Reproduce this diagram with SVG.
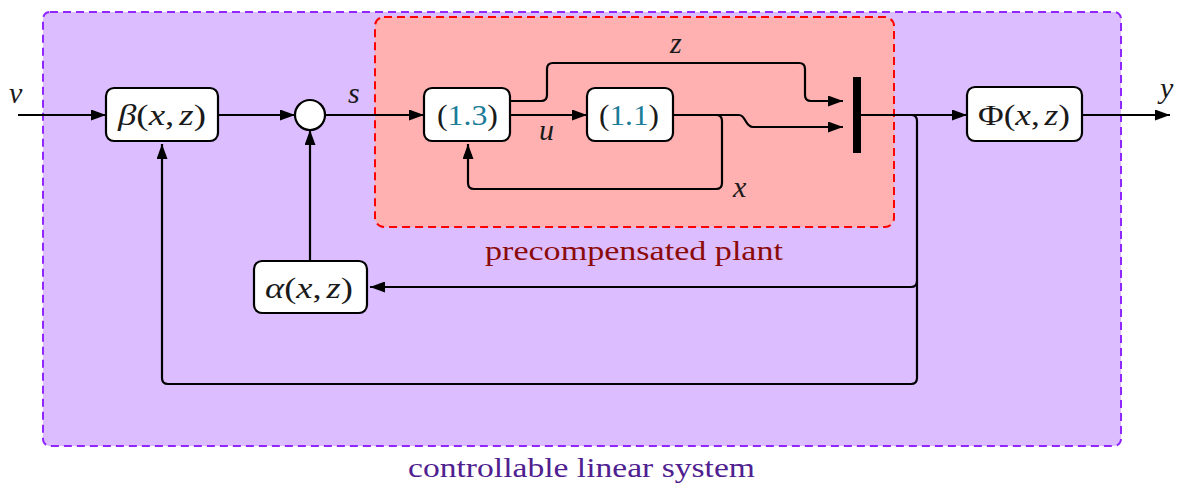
<svg xmlns="http://www.w3.org/2000/svg" width="1179" height="485" viewBox="0 0 1179 485">
  <style>
    .frame-outer { fill: #dcbdff; stroke: #9027ff; stroke-width: 2; stroke-dasharray: 8 5; }
    .frame-inner { fill: #ffb0b0; stroke: #ff0000; stroke-width: 2; stroke-dasharray: 8 5; }
    .blk { fill: #ffffff; stroke: #000; stroke-width: 2.2; }
    .wire { fill: none; stroke: #000; stroke-width: 2.2; }
    .arr { marker-end: url(#head); }
    .math { font-family: "Liberation Serif", "DejaVu Serif", serif; font-size: 29px; fill: #1a1a1a; }
    .var { font-family: "Liberation Serif", "DejaVu Serif", serif; font-size: 30px; font-style: italic; fill: #1a1a1a; }
    .it { font-style: italic; }
    .ref { fill: #1b7c98; }
    .cap { font-family: "Liberation Serif", "DejaVu Serif", serif; font-size: 28px; }
  </style>
  <defs>
    <marker id="head" markerWidth="15" markerHeight="11" refX="15" refY="5.5" orient="auto" markerUnits="userSpaceOnUse">
      <path d="M0,0 L15,5.5 L0,11 Z" fill="#000"/>
    </marker>
  </defs>

  <!-- enclosing regions -->
  <g id="system">
    <rect class="frame-outer" x="43" y="12" width="1078" height="434" rx="7"/>
    <text class="cap" x="408" y="477" fill="#4f2090" textLength="347" lengthAdjust="spacingAndGlyphs">controllable linear system</text>
  </g>
  <g id="plant">
    <rect class="frame-inner" x="375" y="17" width="519" height="210" rx="9"/>
    <text class="cap" x="485" y="260" fill="#8b0a0a" textLength="298" lengthAdjust="spacingAndGlyphs">precompensated plant</text>
  </g>

  <!-- connectors -->
  <g id="connectors">
    <path class="wire arr" d="M18 115 H106"/>
    <path class="wire arr" d="M218 115 H295"/>
    <path class="wire arr" d="M325 115 H424"/>
    <path class="wire arr" d="M510 115 H587"/>
    <path class="wire arr" d="M510 101 H541 Q547 101 547 95 V69 Q547 63 553 63 H799 Q805 63 805 69 V95 Q805 101 811 101 H843"/>
    <path class="wire arr" d="M673 115 H739 C746 115 745 127 753 127 H843"/>
    <path class="wire arr" d="M716 115 Q722 115 722 121 V183 Q722 189 716 189 H474 Q468 189 468 183 V144"/>
    <path class="wire arr" d="M861 115 H967"/>
    <path class="wire arr" d="M1082 115 H1170"/>
    <path class="wire arr" d="M911 115 Q917 115 917 121 V281 Q917 287 911 287 H370"/>
    <path class="wire arr" d="M917 281 V378 Q917 384 911 384 H168 Q162 384 162 378 V144"/>
    <path class="wire arr" d="M310 261 V130"/>
    <rect x="853" y="77" width="8" height="76" fill="#000"/>
    <text class="var" x="9" y="103">v</text>
    <text class="var" x="348" y="103">s</text>
    <text class="var" x="1160" y="98">y</text>
    <text class="var" x="670" y="53">z</text>
    <text class="var" x="539" y="140">u</text>
    <text class="var" x="733" y="197">x</text>
  </g>

  <!-- blocks -->
  <g id="beta">
    <rect class="blk" x="106" y="88" width="112" height="53" rx="8"/>
    <text class="math" x="118" y="125" textLength="88" lengthAdjust="spacingAndGlyphs"><tspan class="it">β</tspan>(<tspan class="it">x</tspan>,<tspan class="it" dx="4">z</tspan>)</text>
  </g>
  <g id="sum">
    <circle class="blk" cx="310" cy="115" r="15"/>
  </g>
  <g id="alpha">
    <rect class="blk" x="254" y="261" width="113" height="52" rx="8"/>
    <text class="math" x="265" y="298" textLength="88" lengthAdjust="spacingAndGlyphs"><tspan class="it">α</tspan>(<tspan class="it">x</tspan>,<tspan class="it" dx="4">z</tspan>)</text>
  </g>
  <g id="eq13">
    <rect class="blk" x="424" y="88" width="86" height="53" rx="8"/>
    <text class="math" x="437" y="125" textLength="61" lengthAdjust="spacingAndGlyphs">(<tspan class="ref">1.3</tspan>)</text>
  </g>
  <g id="eq11">
    <rect class="blk" x="587" y="88" width="86" height="53" rx="8"/>
    <text class="math" x="599" y="125" textLength="60" lengthAdjust="spacingAndGlyphs">(<tspan class="ref">1.1</tspan>)</text>
  </g>
  <g id="phi">
    <rect class="blk" x="967" y="87" width="115" height="54" rx="8"/>
    <text class="math" x="978" y="125" textLength="92" lengthAdjust="spacingAndGlyphs">Φ(<tspan class="it">x</tspan>,<tspan class="it" dx="4">z</tspan>)</text>
  </g>
</svg>
